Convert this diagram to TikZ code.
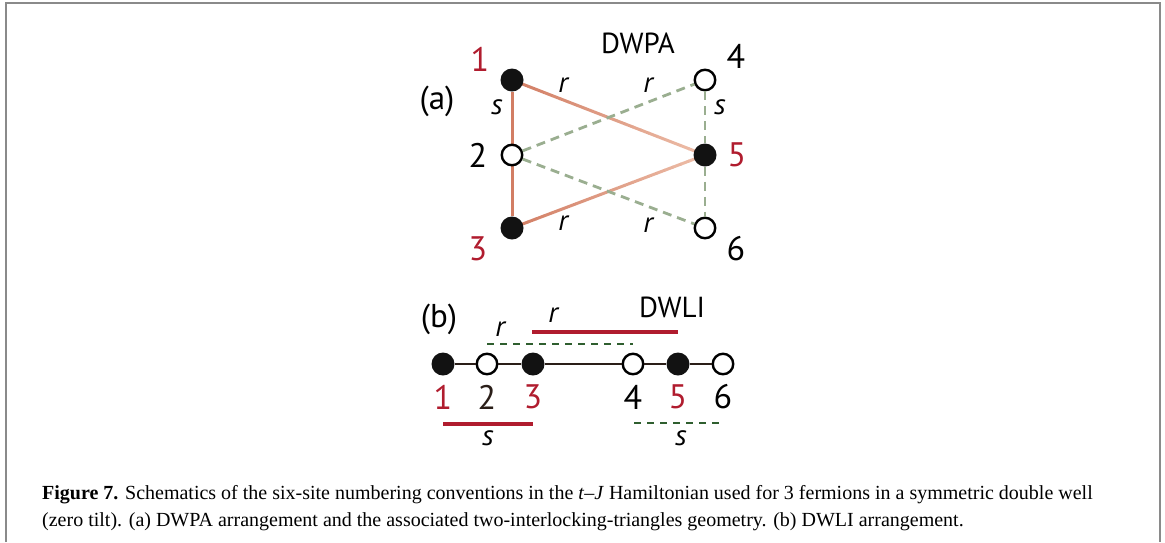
\documentclass[tikz,border=0pt]{standalone}
\usepackage{fontspec}
\setmainfont{Liberation Serif}
\newfontfamily\dg{PT Sans}
\usetikzlibrary{calc}
\pgfdeclarelayer{bg}
\pgfsetlayers{bg,main}
\definecolor{edgeC}{HTML}{D27E64}
\definecolor{edgeL}{HTML}{EDBDA8}
\definecolor{grn}{HTML}{9AAE90}
\definecolor{redT}{HTML}{B01C2E}
\definecolor{dgrn}{HTML}{2F5F2F}
\definecolor{chain}{HTML}{2A1E18}
\definecolor{framec}{HTML}{8A8A8A}
\begin{document}
\begin{tikzpicture}[x=1pt,y=-1pt,
  full/.style={circle,fill=black!93,inner sep=0pt,minimum size=23pt},
  empty/.style={circle,draw=black,fill=white,line width=2.4pt,inner sep=0pt,minimum size=20.5pt},
  lab/.style={font=\dg\fontsize{34}{36}\selectfont},
  redlab/.style={lab,text=redT},
  head/.style={font=\dg\fontsize{29}{31}\selectfont},
  pl/.style={font=\dg\fontsize{33}{35}\selectfont},
  var/.style={font=\dg\itshape\fontsize{29}{31}\selectfont},
  soft/.style={edgeC,line width=3pt},
  gdash/.style={grn,line width=2.8pt,dash pattern=on 9pt off 6pt},
  chainline/.style={chain,line width=2.4pt},
  redbar/.style={redT,line width=3.2pt},
  gbar/.style={dgrn,line width=2.8pt,dash pattern=on 7pt off 6pt}]
\useasboundingbox (0,0) rectangle (1165,542);
\draw[framec,line width=2.2pt] (6,542) -- (6,3) -- (1160,3) -- (1160,542);

% ---------- (a) DWPA ----------
\node[full]  (a1) at (512,80) {};
\node[empty] (a2) at (512,155) {};
\node[full]  (a3) at (512,228) {};
\node[empty] (a4) at (705,80) {};
\node[full]  (a5) at (705,155) {};
\node[empty] (a6) at (705,228) {};

\begin{pgfonlayer}{bg}
\draw[soft] (a1) -- (a2);
\draw[soft] (a2) -- (a3);
\foreach \i in {0,...,23}{
  \pgfmathsetmacro{\pa}{\i/24}
  \pgfmathsetmacro{\pb}{(\i+1.05)/24}
  \pgfmathsetmacro{\pc}{100-\i*100/23}
  \draw[line width=3pt,color=edgeC!\pc!edgeL] ($(a1)!\pa!(a5)$) -- ($(a1)!\pb!(a5)$);
  \draw[line width=3pt,color=edgeC!\pc!edgeL] ($(a3)!\pa!(a5)$) -- ($(a3)!\pb!(a5)$);
}
\end{pgfonlayer}
\draw[gdash] (a2) -- (a4);
\draw[gdash] (a2) -- (a6);
\draw[gdash] (a4) -- (a5);
\draw[gdash] (a5) -- (a6);

\node[redlab] (t1) at (480,59) {1};
\node[lab]    (t4) at (736,56) {4};
\node[lab]    (t2) at (478,155) {2};
\node[redlab] (t5) at (737,155) {5};
\node[redlab] (t3) at (478,249) {3};
\node[lab]    (t6) at (736,249) {6};
\node[head]   (dwpa) at (638,43) {DWPA};
\node[pl]     (pa) at (437,101) {(a)};
\node[var] (r1) at (563,85) {r};
\node[var] (r2) at (648,85) {r};
\node[var] (r3) at (563,223) {r};
\node[var] (r4) at (648,225) {r};
\node[var] (s1) at (497,107) {s};
\node[var] (s2) at (720,107) {s};

% ---------- (b) DWLI ----------
\node[full]  (b1) at (443,364) {};
\node[empty] (b2) at (487,364) {};
\node[full]  (b3) at (533,364) {};
\node[empty] (b4) at (633,364) {};
\node[full]  (b5) at (678,364) {};
\node[empty] (b6) at (723,364) {};
\draw[chainline] (b1) -- (b2);
\draw[chainline] (b2) -- (b3);
\draw[chainline] (b3) -- (b4);
\draw[chainline] (b4) -- (b5);
\draw[chainline] (b5) -- (b6);

\node[redlab] (u1) at (443,397) {1};
\node[lab,text=chain] (u2) at (487,397) {2};
\node[redlab] (u3) at (533,397) {3};
\node[lab]    (u4) at (633,397) {4};
\node[redlab] (u5) at (678,397) {5};
\node[lab]    (u6) at (723,397) {6};
\node[pl]   (pb) at (439,319) {(b)};
\node[head] (dwli) at (672,307) {DWLI};

\coordinate (rrA) at (532,332); \coordinate (rrB) at (678,332);
\draw[redbar] (rrA) -- (rrB);
\node[var] (rr) at (553,315) {r};
\coordinate (grA) at (487,344); \coordinate (grB) at (633,344);
\draw[gbar] (grA) -- (grB);
\node[var] (gr) at (500,329) {r};
\coordinate (rsA) at (443,424); \coordinate (rsB) at (533,424);
\draw[redbar] (rsA) -- (rsB);
\node[var] (rs) at (488,438) {s};
\coordinate (gsA) at (634,423); \coordinate (gsB) at (723,423);
\draw[gbar] (gsA) -- (gsB);
\node[var] (gs) at (681,438) {s};

% ---------- caption ----------
\node[anchor=base west,inner sep=0pt,font=\fontsize{20}{22}\selectfont] (cap1) at (42,499)
  {\textbf{Figure 7.} Schematics of the six-site numbering conventions in the \textit{t}--\textit{J} Hamiltonian used for 3 fermions in a symmetric double well};
\node[anchor=base west,inner sep=0pt,font=\fontsize{20}{22}\selectfont] (cap2) at (42,526)
  {(zero tilt). (a) DWPA arrangement and the associated two-interlocking-triangles geometry. (b) DWLI arrangement.};
\end{tikzpicture}
\end{document}
